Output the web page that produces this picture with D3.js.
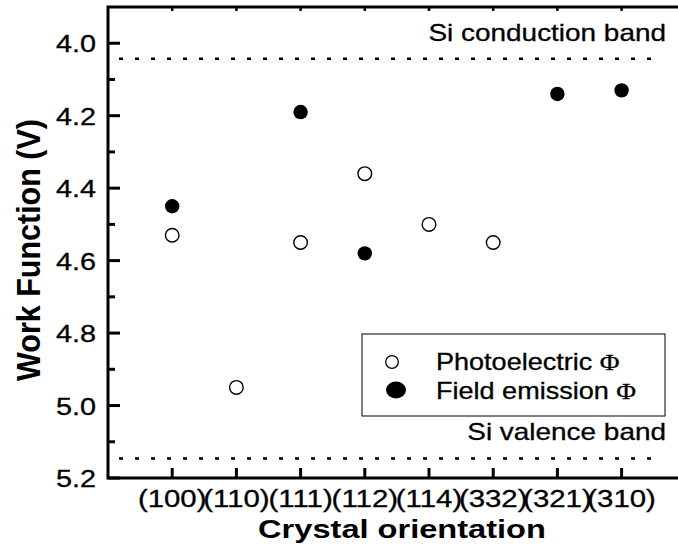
<!DOCTYPE html>
<html>
<head>
<meta charset="utf-8">
<script src="https://cdn.jsdelivr.net/npm/d3@7"></script>
<style>
  body { margin: 0; background: #fff; }
  text { font-family: "Liberation Sans", Arial, sans-serif; fill: #000; }
</style>
</head>
<body>
<div id="chart"></div>
<script>
// data
let orientations = ["(100)", "(110)", "(111)", "(112)", "(114)", "(332)", "(321)", "(310)"];
let photoOrient = ["(100)", "(110)", "(111)", "(112)", "(114)", "(332)"];
let photoPhi = [4.53, 4.95, 4.55, 4.36, 4.50, 4.55];
let fieldOrient = ["(100)", "(111)", "(112)", "(321)", "(310)"];
let fieldPhi = [4.45, 4.19, 4.58, 4.14, 4.13];
let bandNames = ["Si conduction band", "Si valence band"];
let bandValues = [4.043, 5.146];
let yTickValues = [4.0, 4.2, 4.4, 4.6, 4.8, 5.0, 5.2];
let yMinorValues = [4.1, 4.3, 4.5, 4.7, 4.9, 5.1];

let chart_width = 678, chart_height = 545;
let plotLeft = 108, plotTop = 7, plotBottom = 478, step = 64.2;
let sx = 1.2;   // text in the original is drawn a bit wide

let svg = d3.select("#chart")
    .append("svg")
    .attr("width", chart_width)
    .attr("height", chart_height);

// x: category index, one empty slot on each side
let x = d3.scaleLinear()
    .domain([0, orientations.length + 1])
    .range([plotLeft, plotLeft + step * (orientations.length + 1)]);
let xCat = function(name) { return x(orientations.indexOf(name) + 1); };

// y: inverted, 4.0 near the top
let y = d3.scaleLinear()
    .domain([3.9, 5.2])
    .range([plotTop, plotBottom]);

// frame (right side runs off the page)
svg.append("rect")
    .attr("x", x(0))
    .attr("y", y(3.9))
    .attr("width", x(orientations.length + 1) - x(0))
    .attr("height", y(5.2) - y(3.9))
    .attr("fill", "none")
    .attr("stroke", "#000")
    .attr("stroke-width", 3);

// y ticks, pointing inward
svg.selectAll(".ymajor").data(yTickValues).enter()
    .append("line")
    .attr("x1", x(0)).attr("x2", x(0) + 12)
    .attr("y1", d => y(d)).attr("y2", d => y(d))
    .attr("stroke", "#000").attr("stroke-width", 3);
svg.selectAll(".yminor").data(yMinorValues).enter()
    .append("line")
    .attr("x1", x(0)).attr("x2", x(0) + 7)
    .attr("y1", d => y(d)).attr("y2", d => y(d))
    .attr("stroke", "#000").attr("stroke-width", 3);

svg.selectAll(".ylab").data(yTickValues).enter()
    .append("text")
    .attr("transform", d => `translate(${x(0) - 12}, ${y(d) + 9}) scale(${sx},1)`)
    .style("text-anchor", "end")
    .style("font-size", "24px")
    .style("stroke", "#000").style("stroke-width", 0.3)
    .text(d => d.toFixed(1));

// x ticks: bottom (long) and top (short)
svg.selectAll(".xtickb").data(orientations).enter()
    .append("line")
    .attr("x1", d => xCat(d)).attr("x2", d => xCat(d))
    .attr("y1", y(5.2)).attr("y2", y(5.2) - 10)
    .attr("stroke", "#000").attr("stroke-width", 3);
svg.selectAll(".xtickt").data(orientations).enter()
    .append("line")
    .attr("x1", d => xCat(d)).attr("x2", d => xCat(d))
    .attr("y1", y(3.9)).attr("y2", y(3.9) + 4)
    .attr("stroke", "#000").attr("stroke-width", 2.5);

svg.selectAll(".xlab").data(orientations).enter()
    .append("text")
    .attr("transform", d => `translate(${xCat(d)}, 507) scale(1.25,1)`)
    .style("text-anchor", "middle")
    .style("font-size", "23.5px")
    .style("stroke", "#000").style("stroke-width", 0.3)
    .text(d => d);

// band edges: dotted lines with labels
let bands = bandNames.map((n, i) => ({ name: n, value: bandValues[i] }));
svg.selectAll(".band").data(bands).enter()
    .append("line")
    .attr("x1", x(0) + 11).attr("x2", 652)
    .attr("y1", d => y(d.value)).attr("y2", d => y(d.value))
    .attr("stroke", "#000")
    .attr("stroke-width", 2.5)
    .attr("stroke-dasharray", "4,12");
svg.selectAll(".bandlab").data(bands).enter()
    .append("text")
    .attr("transform", d => `translate(666, ${y(d.value) - 18}) scale(${sx * 0.97},1)`)
    .style("text-anchor", "end")
    .style("font-size", "24px")
    .style("stroke", "#000").style("stroke-width", 0.3)
    .text(d => d.name);

// points
svg.selectAll(".photo").data(photoPhi).enter()
    .append("circle")
    .attr("cx", (d, i) => xCat(photoOrient[i]))
    .attr("cy", d => y(d))
    .attr("r", 6.8)
    .attr("fill", "#fff")
    .attr("stroke", "#000")
    .attr("stroke-width", 1.4);
svg.selectAll(".field").data(fieldPhi).enter()
    .append("circle")
    .attr("cx", (d, i) => xCat(fieldOrient[i]))
    .attr("cy", d => y(d))
    .attr("r", 7.2)
    .attr("fill", "#000");

// legend
let legend = svg.append("g");
legend.append("rect")
    .attr("x", 362).attr("y", 334)
    .attr("width", 303).attr("height", 82)
    .attr("fill", "#fff")
    .attr("stroke", "#000")
    .attr("stroke-width", 1);
legend.append("circle")
    .attr("cx", 392).attr("cy", 362).attr("r", 6.3)
    .attr("fill", "#fff").attr("stroke", "#000").attr("stroke-width", 1.3);
legend.append("ellipse")
    .attr("cx", 396).attr("cy", 390).attr("rx", 10).attr("ry", 8.5)
    .attr("fill", "#000");

let legendText = ["Photoelectric ", "Field emission "];
legendText.forEach(function(t, i) {
    let txt = legend.append("text")
        .attr("transform", `translate(436, ${370 + i * 29}) scale(${sx * 0.98},1)`)
        .style("font-size", "23px")
        .style("stroke", "#000").style("stroke-width", 0.3);
    txt.append("tspan").text(t);
    txt.append("tspan")
        .style("font-family", "'Liberation Serif', 'Times New Roman', serif")
        .text("\u03A6");
});

// axis titles
svg.append("text")
    .attr("transform", `translate(402, 538) scale(1.23,1)`)
    .style("text-anchor", "middle")
    .style("font-size", "26.5px")
    .style("font-weight", "bold")
    .text("Crystal orientation");

svg.append("text")
    .attr("transform", `translate(40, 250) scale(1.06,1) rotate(-90)`)
    .style("text-anchor", "middle")
    .style("font-size", "30.5px")
    .style("font-weight", "bold")
    .text("Work Function (V)");
</script>
</body>
</html>
